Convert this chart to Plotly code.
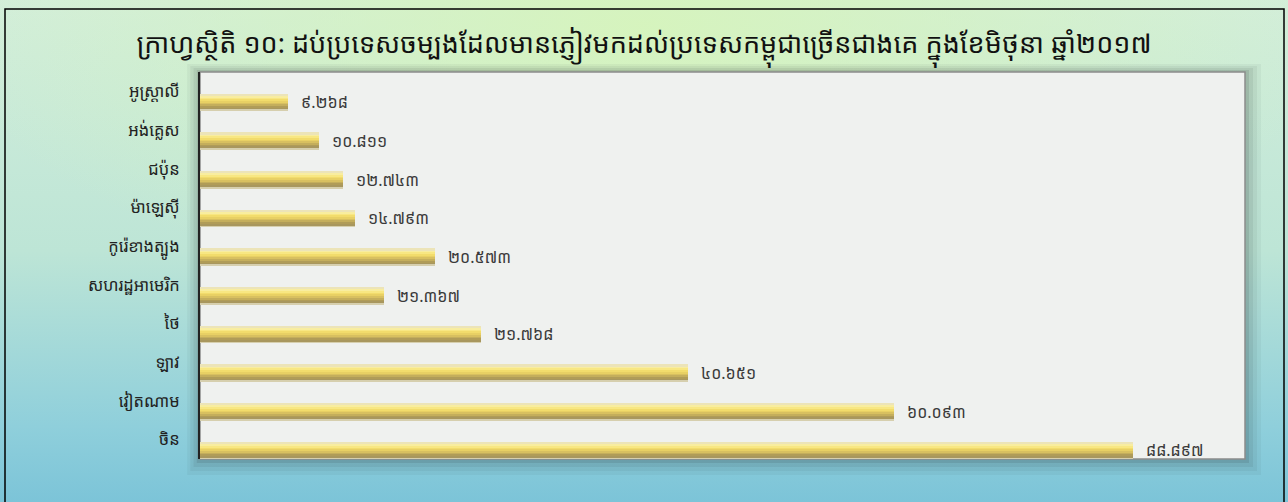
import base64
import plotly.graph_objects as go

# ---- data (top to bottom as shown) ----
countries = ["អូស្ត្រាលី", "អង់គ្លេស", "ជប៉ុន", "ម៉ាឡេស៊ី", "កូរ៉េខាងត្បូង",
             "សហរដ្ឋអាមេរិក", "ថៃ", "ឡាវ", "វៀតណាម", "ចិន"]
# bar lengths as drawn in the picture (thousand visitors)
bar_lengths = [8.45, 11.39, 13.71, 14.83, 22.49, 17.6, 26.9, 46.7, 66.4, 89.28]
# value labels printed next to the bars
value_labels = ["៩.២៦៨", "១០.៨១១", "១២.៧៤៣", "១៤.៧៩៣", "២០.៥៧៣",
                "២១.៣៦៧", "២១.៧៦៨", "៤០.៦៥១", "៦០.០៩៣", "៨៨.៨៩៧"]
title_text = "ក្រាហ្វស្ថិតិ ១០: ដប់ប្រទេសចម្បងដែលមានភ្ញៀវមកដល់ប្រទេសកម្ពុជាច្រើនជាងគេ ក្នុងខែមិថុនា ឆ្នាំ២០១៧"

n = len(countries)
ypos = [n - 1 - i for i in range(n)]

W, H = 1288, 502
L, R, T, B = 200, 43, 72, 43
PW, PH = W - L - R, H - T - B

def px_x(px):
    return (px - L) / PW

def px_y(py):
    return (H - B - py) / PH

FONT = "Noto Sans Khmer, Khmer OS, Noto Sans, DejaVu Sans, sans-serif"

fig = go.Figure()

# gold gradient bar built from horizontal strips (top -> bottom colours)
strip_colors = ["#ece4b8", "#f8eda0", "#f8e782", "#f2dc6c", "#e8d064",
                "#d8c060", "#c4ae5c", "#b09c58", "#a8975e", "#d6cfae"]
bar_h = 0.44
ns = len(strip_colors)
sh = bar_h / ns
for k, col in enumerate(reversed(strip_colors)):
    fig.add_trace(go.Bar(
        x=bar_lengths, y=ypos, orientation="h",
        width=sh * 1.05, offset=-0.5 + k * sh,
        marker=dict(color=col, line=dict(width=0)),
        hoverinfo="skip", showlegend=False,
    ))

# value labels
for v, y, t in zip(bar_lengths, ypos, value_labels):
    fig.add_annotation(x=v, y=y - 0.5 + bar_h / 2, text=t, showarrow=False,
                       xanchor="left", yanchor="middle", xshift=11,
                       font=dict(family=FONT, size=16, color="#3a3a3a"))

# background image (gradient)
svg = f"""<svg xmlns='http://www.w3.org/2000/svg' width='{W}' height='{H}'>
<defs>
<linearGradient id='v' x1='0' y1='0' x2='0' y2='1'>
<stop offset='0' stop-color='#d3eedb'/>
<stop offset='0.5' stop-color='#bde5d6'/>
<stop offset='0.85' stop-color='#8fcfdb'/>
<stop offset='1' stop-color='#7cc4d8'/>
</linearGradient>
<radialGradient id='r' cx='0.5' cy='0.05' r='0.55'>
<stop offset='0' stop-color='#d6f4bc' stop-opacity='0.95'/>
<stop offset='1' stop-color='#d6f4bc' stop-opacity='0'/>
</radialGradient>
</defs>
<rect width='100%' height='100%' fill='url(#v)'/>
<rect width='100%' height='100%' fill='url(#r)'/>
</svg>"""
src = "data:image/svg+xml;base64," + base64.b64encode(svg.encode()).decode()
fig.add_layout_image(dict(source=src, xref="paper", yref="paper",
                          x=px_x(0), y=px_y(0), sizex=W / PW, sizey=H / PH,
                          xanchor="left", yanchor="top", sizing="stretch",
                          layer="below", opacity=1))

shapes = []
# soft shadow around plot area
for d, a in [(16, 0.05), (12, 0.06), (8, 0.08), (4, 0.12)]:
    shapes.append(dict(type="rect", xref="paper", yref="paper", layer="below",
                       x0=px_x(L - d * 0.8), x1=px_x(W - R + d), y0=px_y(H - B + d), y1=px_y(T - d * 0.5),
                       fillcolor=f"rgba(40,50,50,{a})", line=dict(width=0)))
# plot area
shapes.append(dict(type="rect", xref="paper", yref="paper", layer="below",
                   x0=0, x1=1, y0=0, y1=1, fillcolor="#eff1ef",
                   line=dict(color="#8c8c8c", width=1.5)))
# outer frame
shapes.append(dict(type="rect", xref="paper", yref="paper", layer="above",
                   x0=px_x(5), x1=px_x(1284), y0=px_y(510), y1=px_y(9),
                   fillcolor="rgba(0,0,0,0)", line=dict(color="#000000", width=1.5)))

fig.update_layout(
    width=W, height=H,
    margin=dict(l=L, r=R, t=T, b=B),
    paper_bgcolor="#c6e9d8",
    plot_bgcolor="rgba(0,0,0,0)",
    barmode="overlay", bargap=0,
    shapes=shapes,
    title=dict(text=title_text, x=0.5, xanchor="center", y=1 - 44 / H, yanchor="middle",
               font=dict(family=FONT, size=27, color="#111111")),
    xaxis=dict(range=[0, 100], visible=False, fixedrange=True),
    yaxis=dict(range=[-0.5, n - 0.5], tickvals=ypos, ticktext=countries,
               showgrid=False, zeroline=False, showline=True, linecolor="#222222",
               linewidth=2, ticks="", ticklabelstandoff=15, fixedrange=True,
               tickfont=dict(family=FONT, size=16.5, color="#222222")),
    showlegend=False,
)

fig.write_html("out.html", config={"displayModeBar": False},
               post_script="document.body.style.margin='0';document.body.style.overflow='hidden';")
